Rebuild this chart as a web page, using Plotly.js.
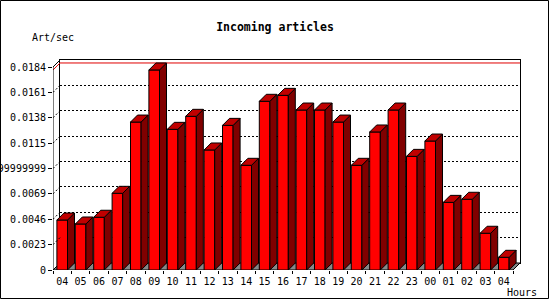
<!DOCTYPE html>
<html><head><meta charset="utf-8">
<script src="https://cdn.plot.ly/plotly-3.0.1.min.js"></script>
<style>html,body{margin:0;padding:0;background:#fff}#c{width:550px;height:300px}</style>
</head><body><div id="c"></div>
<script>
const hours = ["04","05","06","07","08","09","10","11","12","13","14","15","16","17","18","19","20","21","22","23","00","01","02","03","04"];
const artPerSec = [0.00453,0.00417,0.00478,0.00695,0.01341,0.01813,0.01275,0.01393,0.01088,0.01311,0.00949,0.01529,0.01583,0.0145,0.0145,0.01341,0.00949,0.01251,0.0145,0.0103,0.01169,0.00613,0.00641,0.00333,0.00115];
const yTickVals = [0,0.0023,0.0046,0.0069,0.0092,0.0115,0.0138,0.0161,0.0184];
const yTickText = ["0","0.0023","0.0046","0.0069","0.0091999999999999","0.0115","0.0138","0.0161","0.0184"];

// geometry (px)
const W=550,H=300, L=53, R=30, T=60, B=30, DEPTH=7;
const plotW=W-L-R, plotH=H-T-B;
const n = hours.length;
const yMax = yTickVals[yTickVals.length-1];
const pxPerCat = (plotW-DEPTH)/n;
const pxPerVal = (plotH-DEPTH)/yMax;
const DX = DEPTH/pxPerCat, DY = DEPTH/pxPerVal;
const BW = 10.6/pxPerCat;
const xs = hours.map((_,i)=>i);

// polygons for the 3D faces
const sideX=[], sideY=[], topX=[], topY=[];
artPerSec.forEach((v,i)=>{
  const x1=i+BW/2, x0=i-BW/2;
  sideX.push(x1,x1+DX,x1+DX,x1,x1,null); sideY.push(0,DY,v+DY,v,0,null);
  topX.push(x0,x1,x1+DX,x0+DX,x0,null); topY.push(v,v,v+DY,v+DY,v,null);
});
const maxV = Math.max(...artPerSec);
const connX=[], connY=[];
yTickVals.slice(1,-1).forEach(v=>{connX.push(-0.5,-0.5+DX,null); connY.push(v,v+DY,null);});

const common = {xaxis:'x2', yaxis:'y2', hoverinfo:'skip', showlegend:false};
const traces = [
  {type:'scatter', mode:'lines', x:[], y:[], xaxis:'x', yaxis:'y', showlegend:false, hoverinfo:'skip'},
  Object.assign({type:'bar', x:xs, y:artPerSec, width:BW, marker:{color:'#ff0000', line:{color:'#000',width:1}}}, common),
  Object.assign({type:'scatter', mode:'lines', x:connX, y:connY, line:{color:'#000',width:1,dash:'2px,2px'}}, common),
  Object.assign({type:'scatter', mode:'lines', x:[-0.5,-0.5,-0.5+DX], y:[0,yMax,yMax+DY], line:{color:'#000',width:1}}, common),
  Object.assign({type:'scatter', mode:'lines', x:sideX, y:sideY, fill:'toself', fillcolor:'#800000', line:{color:'#000',width:1}}, common),
  Object.assign({type:'scatter', mode:'lines', x:topX, y:topY, fill:'toself', fillcolor:'#c00000', line:{color:'#000',width:1}}, common)
];

const floorPath = `M${-0.5},0 L${n-0.5},0 L${n-0.5+DX},${DY} L${-0.5+DX},${DY} Z`;
const font = {family:'DejaVu Sans Mono', size:10, color:'#000'};
const layout = {
  width:W, height:H, margin:{l:L,r:R,t:T,b:B,pad:0},
  paper_bgcolor:'#fff', plot_bgcolor:'rgba(0,0,0,0)', font:font, showlegend:false,
  title:{text:'<b>Incoming articles</b>', x:0.5, xref:'container', y:1-27/H, yref:'container', yanchor:'middle', xanchor:'center', font:{family:'DejaVu Sans Mono', size:11.5, color:'#000'}},
  // back wall
  xaxis:{domain:[DEPTH/plotW,1], range:[-0.5,n-0.5], anchor:'y', showgrid:false, zeroline:false, showticklabels:false, ticks:'', showline:true, mirror:true, linecolor:'#000', linewidth:1, fixedrange:true},
  yaxis:{domain:[DEPTH/plotH,1], range:[0,yMax], anchor:'x', tickmode:'array', tickvals:yTickVals.slice(1,-1), showgrid:true, gridcolor:'#000', gridwidth:1, griddash:'2px,2px', zeroline:false, showticklabels:false, ticks:'', showline:true, mirror:true, linecolor:'#000', linewidth:1, fixedrange:true},
  // front
  xaxis2:{domain:[0,1], range:[-0.5,n-0.5+DX], anchor:'y2', showgrid:false, zeroline:false, showline:false, tickmode:'array', tickvals:xs, ticktext:hours, ticks:'', tickfont:font, ticklabelstandoff:4,
    minor:{tickmode:'array', tickvals:xs.concat([n]).map(i=>i-0.5), ticks:'outside', ticklen:3, tickcolor:'#000', showgrid:false}, fixedrange:true},
  yaxis2:{domain:[0,1], range:[0,yMax+DY], anchor:'x2', showgrid:false, zeroline:false, showline:false, tickmode:'array', tickvals:yTickVals, ticktext:yTickText, ticks:'outside', ticklen:4, tickcolor:'#000', tickfont:font, fixedrange:true},
  annotations:[
    {text:'Art/sec', xref:'paper', yref:'paper', x:(30-L)/plotW, y:(H-B-38)/plotH, xanchor:'left', yanchor:'middle', showarrow:false, font:font},
    {text:'Hours', xref:'paper', yref:'paper', x:(505-L)/plotW, y:(H-B-292)/plotH, xanchor:'left', yanchor:'middle', showarrow:false, font:font}
  ],
  shapes:[
    {type:'path', xref:'x2', yref:'y2', path:floorPath, fillcolor:'#888888', line:{color:'#000',width:1}, layer:'below'},
    {type:'path', xref:'x2', yref:'y2', path:`M${-0.5},${maxV} L${-0.5+DX},${maxV+DY} L${n-0.5+DX},${maxV+DY}`, line:{color:'#e00000',width:1}, layer:'below'},
    {type:'rect', xref:'paper', yref:'paper', x0:(0.5-L)/plotW, x1:(548.5-L)/plotW, y0:(H-B-298.5)/plotH, y1:(H-B-0.5)/plotH, line:{color:'#000',width:1}, fillcolor:'rgba(0,0,0,0)', layer:'above'}
  ]
};
Plotly.newPlot('c', traces, layout, {displayModeBar:false, staticPlot:true});
</script></body></html>
